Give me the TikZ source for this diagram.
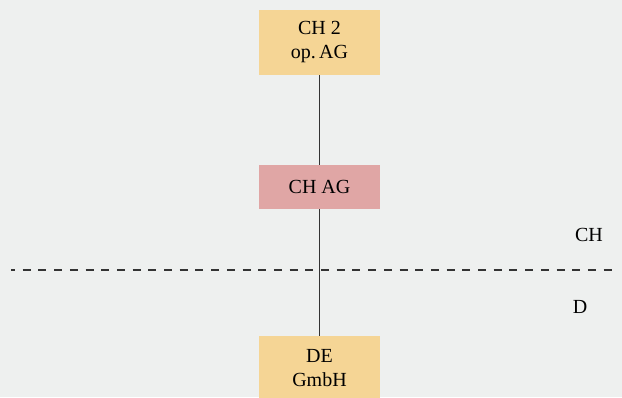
\documentclass[tikz,border=0pt]{standalone}
\usepackage{tikz}
\usepackage{fontspec}
\setmainfont{Liberation Serif}
\definecolor{bggray}{HTML}{EEF0EF}
\definecolor{boxyellow}{HTML}{F5D595}
\definecolor{boxpink}{HTML}{E0A6A5}
\definecolor{linegray}{HTML}{333333}
\tikzset{
  entity/.style={minimum width=121pt, align=center, inner sep=0pt, font=\fontsize{20}{24}\selectfont},
  country/.style={inner sep=0pt, font=\fontsize{20}{24}\selectfont},
}

\begin{document}
\begin{tikzpicture}[x=1pt, y=1pt]
			%%%%% START %%%%%
			\fill[bggray] (0, 0) rectangle (622, 397);
			\useasboundingbox (0, 0) rectangle (622, 397);
			
			\draw[linegray, line width=1.1pt, dash pattern=on 8pt off 7.7pt, dash phase=4pt] (11, 127) -- (616, 127);
			
			\node[entity, fill=boxyellow, minimum height=65pt] (ch2) at (319.5, 354.5) {CH 2\\op.\,AG};
			\node[entity, fill=boxpink, minimum height=44pt] (chag) at (319.5, 210) {CH AG};
			\node[entity, fill=boxyellow, minimum height=65pt] (de) at (319.5, 28.5) {DE\\GmbH};
			
			\draw[linegray, line width=1.2pt] (ch2) -- (chag);
			\draw[linegray, line width=1.2pt] (chag) -- (de);
			
			\node[country] (ch) at (589, 162) {CH};
			\node[country] (d) at (580, 90) {D};
			%%%%% END %%%%%
\end{tikzpicture}
\end{document}
